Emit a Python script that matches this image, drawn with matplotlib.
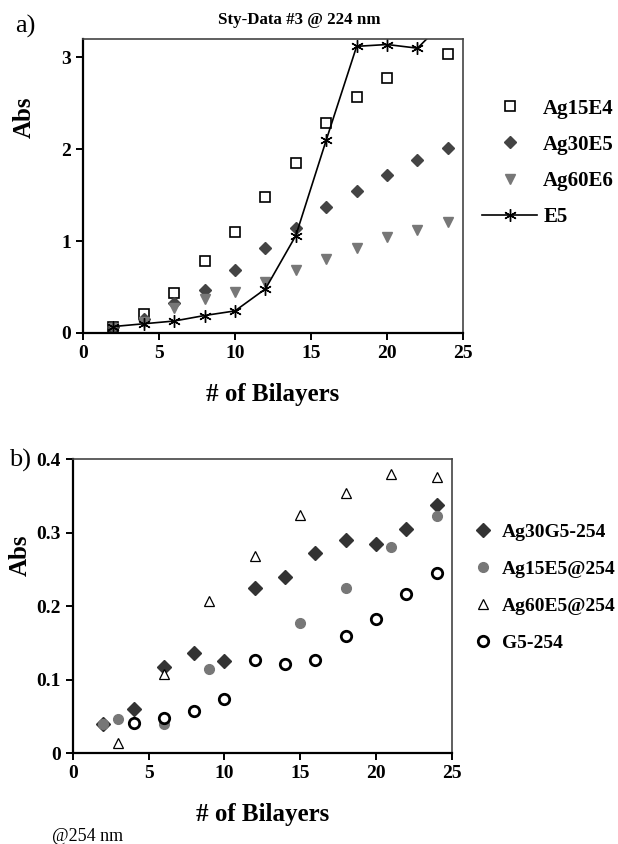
import numpy as np
import matplotlib
matplotlib.use("Agg")
import matplotlib.pyplot as plt

plt.rcParams['font.family'] = ['Liberation Serif', 'DejaVu Serif']
plt.rcParams['font.weight'] = 'bold'

# panel a) Sty-Data #3 @ 224 nm
a_x = [2, 4, 6, 8, 10, 12, 14, 16, 18, 20, 22, 24]
ag15e4_x = [2, 4, 6, 8, 10, 12, 14, 16, 18, 20, 24]
ag15e4 = [0.07, 0.21, 0.44, 0.78, 1.10, 1.48, 1.85, 2.29, 2.57, 2.78, 3.04]
ag30e5 = [0.06, 0.15, 0.33, 0.47, 0.69, 0.92, 1.14, 1.37, 1.55, 1.72, 1.88, 2.01]
ag60e6 = [0.05, 0.12, 0.27, 0.37, 0.45, 0.56, 0.68, 0.80, 0.92, 1.04, 1.12, 1.21]
e5 = [0.07, 0.10, 0.13, 0.19, 0.24, 0.48, 1.06, 2.10, 3.12, 3.14, 3.10, 3.43]

# panel b) @254 nm
ag30g5_x = [2, 4, 6, 8, 10, 12, 14, 16, 18, 20, 22, 24]
ag30g5 = [0.039, 0.060, 0.117, 0.136, 0.125, 0.224, 0.239, 0.272, 0.290, 0.285, 0.305, 0.337]
ag15e5_x = [2, 3, 6, 9, 15, 18, 21, 24]
ag15e5 = [0.039, 0.046, 0.040, 0.115, 0.177, 0.225, 0.281, 0.323]
ag60e5_x = [3, 6, 9, 12, 15, 18, 21, 24]
ag60e5 = [0.014, 0.107, 0.207, 0.268, 0.324, 0.354, 0.380, 0.375]
g5_x = [4, 6, 8, 10, 12, 14, 16, 18, 20, 22, 24]
g5 = [0.041, 0.048, 0.057, 0.074, 0.126, 0.121, 0.126, 0.159, 0.182, 0.217, 0.245]

fig = plt.figure(figsize=(6.18, 8.44), dpi=100)
ax1 = fig.add_axes([0.1343, 0.6055, 0.615, 0.3483])
ax2 = fig.add_axes([0.118, 0.1078, 0.613, 0.3483])


def style(ax):
    for s in ['left', 'bottom']:
        ax.spines[s].set_linewidth(1.6)
    for s in ['top', 'right']:
        ax.spines[s].set_linewidth(1.2)
        ax.spines[s].set_color('#444444')
    ax.tick_params(direction='out', length=5, width=1.4, labelsize=14, pad=3.5)
    ax.set_xlim(0, 25)
    ax.set_xticks([0, 5, 10, 15, 20, 25])
    ax.set_xlabel('# of Bilayers', fontsize=18, fontweight='bold', labelpad=15)
    ax.set_ylabel('Abs', fontsize=18, fontweight='bold')


# ---- a ----
ax1.plot(ag15e4_x, ag15e4, ls='none', marker='s', ms=6.5, mfc='white', mec='black', mew=1.2, label='Ag15E4')
ax1.plot(a_x, ag30e5, ls='none', marker='D', ms=6.3, color='#444444', label='Ag30E5')
ax1.plot(a_x, ag60e6, ls='none', marker='v', ms=7, color='#777777', label='Ag60E6')
ax1.plot(a_x, e5, color='black', lw=1.2, marker=(6, 2, 0), ms=9, mew=1.0, label='E5')
style(ax1)
ax1.set_ylim(0, 3.2)
ax1.set_yticks([0, 1, 2, 3])
ax1.yaxis.set_label_coords(-0.125, 0.735)
ax1.legend(loc='upper left', bbox_to_anchor=(0.78, 0.883), bbox_transform=fig.transFigure,
           frameon=False, fontsize=15, handlelength=2.64, handletextpad=0.3, labelspacing=0.77,
           borderpad=0, borderaxespad=0)
fig.text(0.485, 0.976, 'Sty-Data #3 @ 224 nm', fontsize=12.2, fontweight='bold', ha='center', va='center')
fig.text(0.024, 0.982, 'a)', fontsize=19, fontweight='normal', va='top')

# ---- b ----
ax2.plot(ag30g5_x, ag30g5, ls='none', marker='D', ms=7, color='#333333', label='Ag30G5-254')
ax2.plot(ag15e5_x, ag15e5, ls='none', marker='o', ms=7, color='#777777', label='Ag15E5@254')
ax2.plot(ag60e5_x, ag60e5, ls='none', marker='^', ms=7, mfc='white', mec='black', mew=0.9, label='Ag60E5@254')
ax2.plot(g5_x, g5, ls='none', marker='o', ms=7.5, mfc='white', mec='black', mew=2.0, label='G5-254')
style(ax2)
ax2.set_ylim(0, 0.4)
ax2.set_yticks([0, 0.1, 0.2, 0.3, 0.4])
ax2.set_yticklabels(['0', '0.1', '0.2', '0.3', '0.4'])
ax2.yaxis.set_label_coords(-0.11, 0.673)
ax2.legend(loc='upper left', bbox_to_anchor=(0.766, 0.380), bbox_transform=fig.transFigure,
           frameon=False, fontsize=14, handlelength=1.0, handletextpad=0.46, labelspacing=1.0,
           borderpad=0, borderaxespad=0)
fig.text(0.015, 0.454, 'b)', fontsize=19, fontweight='normal', va='center')
fig.text(0.084, 0.009, '@254 nm', fontsize=13, fontweight='normal', va='center')

fig.savefig('out.png', dpi=100)
